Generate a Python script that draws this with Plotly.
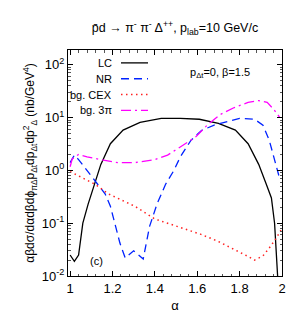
import plotly.graph_objects as go

# ---- data ----
lc_alpha = [1.0, 1.02, 1.04, 1.06, 1.085, 1.12, 1.145, 1.19, 1.25, 1.33, 1.43, 1.52,
            1.61, 1.70, 1.78, 1.84, 1.89, 1.925, 1.95, 1.965, 1.976, 1.985]
lc_vals = [0.025, 0.019, 0.025, 0.10, 0.23, 0.66, 1.3, 3.2, 5.8, 8.1, 9.7, 9.7,
           9.3, 7.8, 5.8, 3.2, 1.3, 0.56, 0.3, 0.1, 0.024, 0.004]

nr_alpha = [1.0, 1.02, 1.04, 1.07, 1.10, 1.13, 1.165, 1.19, 1.21, 1.235, 1.26, 1.30,
            1.345, 1.375, 1.41, 1.45, 1.49, 1.52, 1.57, 1.62, 1.68, 1.73, 1.80,
            1.87, 1.91, 1.94, 1.96, 1.985]
nr_vals = [1.4, 1.95, 1.6, 1.12, 0.76, 0.56, 0.36, 0.21, 0.10, 0.042, 0.022, 0.030,
           0.021, 0.087, 0.23, 0.54, 1.0, 1.8, 3.7, 5.7, 7.2, 8.2, 9.7,
           9.3, 7.2, 3.7, 1.8, 0.8]

cex_alpha = [1.0, 1.05, 1.12, 1.18, 1.24, 1.305, 1.40, 1.46, 1.54, 1.615, 1.695,
             1.775, 1.835, 1.87, 1.91, 1.94, 1.97, 1.995]
cex_vals = [0.95, 0.76, 0.54, 0.36, 0.28, 0.21, 0.12, 0.10, 0.077, 0.062, 0.046,
            0.032, 0.024, 0.020, 0.024, 0.034, 0.050, 0.074]

pi3_alpha = [1.0, 1.01, 1.04, 1.08, 1.145, 1.225, 1.305, 1.40, 1.46, 1.52, 1.59,
             1.65, 1.71, 1.775, 1.84, 1.89, 1.93, 1.96, 1.99]
pi3_vals = [1.17, 1.65, 2.0, 1.8, 1.6, 1.4, 1.4, 1.6, 1.95, 2.8, 4.2,
            7.4, 11.5, 15.5, 19.4, 21, 19.4, 14.5, 10]

series_names = ["LC", "NR", "bg. CEX", "bg. 3π"]
x_tick_vals = [1, 1.2, 1.4, 1.6, 1.8, 2]
x_tick_text = ["1", "1.2", "1.4", "1.6", "1.8", "2"]
y_tick_vals = [0.01, 0.1, 1, 10, 100]
y_tick_text = ["10<sup>-2</sup>", "10<sup>-1</sup>", "10<sup>0</sup>", "10<sup>1</sup>", "10<sup>2</sup>"]
y_minor_vals = [m * d for d in [0.01, 0.1, 1, 10, 100] for m in range(2, 10)]
x_minor_vals = [round(1 + 0.04 * i, 2) for i in range(0, 26) if i % 5 != 0]

FONT = "Liberation Sans"
styles = [
    dict(color="black", width=1.3, dash="solid"),
    dict(color="#0022ff", width=1.3, dash="8px,5px"),
    dict(color="#ff2020", width=1.5, dash="1.5px,3.5px"),
    dict(color="#ff00ff", width=1.3, dash="10px,4px,2px,4px"),
]

fig = go.Figure()
for (xa, ya), name, st in zip([(lc_alpha, lc_vals), (nr_alpha, nr_vals),
                               (cex_alpha, cex_vals), (pi3_alpha, pi3_vals)],
                              series_names, styles):
    fig.add_trace(go.Scatter(x=xa, y=ya, mode="lines", name=name, line=st,
                             showlegend=False))

# manual legend (text right-aligned, line sample to the right)
row_py = [55, 71, 87, 103]
for name, st, py in zip(series_names, styles, row_py):
    yp = (270 - py) / 228
    fig.add_annotation(xref="paper", yref="paper", x=(106 - 60) / 214, y=yp,
                       text=name, showarrow=False, xanchor="right", yanchor="middle",
                       font=dict(family=FONT, size=11, color="black"))
    fig.add_shape(type="line", xref="paper", yref="paper",
                  x0=(113 - 60) / 214, x1=(140 - 60) / 214, y0=yp, y1=yp,
                  line=st)

fig.add_annotation(xref="paper", yref="paper", x=(212 - 60) / 214, y=(270 - 65) / 228,
                   text="p<sub>Δt</sub>=0, β=1.5", showarrow=False,
                   xanchor="center", yanchor="middle",
                   font=dict(family=FONT, size=11, color="black"))
fig.add_annotation(xref="paper", yref="paper", x=(88 - 60) / 214, y=(270 - 255) / 228,
                   text="(c)", showarrow=False, xanchor="center", yanchor="middle",
                   font=dict(family=FONT, size=11, color="black"))

axis_common = dict(showline=True, linecolor="black", linewidth=1, mirror="allticks",
                   ticks="inside", ticklen=5, tickcolor="black", tickwidth=0.8,
                   showgrid=False, zeroline=False,
                   tickfont=dict(family=FONT, size=13, color="black"))

fig.update_xaxes(range=[0.99, 2.0], tickvals=x_tick_vals, ticktext=x_tick_text,
                 minor=dict(ticks="inside", ticklen=2.5, tickcolor="#555555", tickwidth=0.6,
                            tickvals=x_minor_vals, showgrid=False),
                 title=dict(text="α", font=dict(family=FONT, size=13, color="black"),
                            standoff=6),
                 **axis_common)
fig.update_yaxes(type="log", range=[-2, 2.28], tickvals=y_tick_vals, ticktext=y_tick_text,
                 minor=dict(ticks="inside", ticklen=2.5, tickcolor="#555555", tickwidth=0.6,
                            tickvals=y_minor_vals, showgrid=False),
                 title=dict(text="αβdσ/dαdβdϕ<sub>πΔ</sub>p<sub>Δt</sub>dp<sub>Δt</sub>dp<sup>2</sup><sub>Δ</sub> (nb/GeV<sup>4</sup>)",
                            font=dict(family=FONT, size=12, color="black"), standoff=4),
                 **axis_common)

fig.update_layout(
    width=300, height=315,
    margin=dict(l=60, r=26, t=42, b=45),
    paper_bgcolor="white", plot_bgcolor="white",
    title=dict(text="p̄d → π<sup>-</sup> π<sup>-</sup> Δ<sup>++</sup>, p<sub>lab</sub>=10 GeV/c",
               x=(167) / 300, xanchor="center", y=1 - 20 / 315, yanchor="middle",
               font=dict(family=FONT, size=12.5, color="black")),
    showlegend=False,
)

fig.write_html("out.html")
